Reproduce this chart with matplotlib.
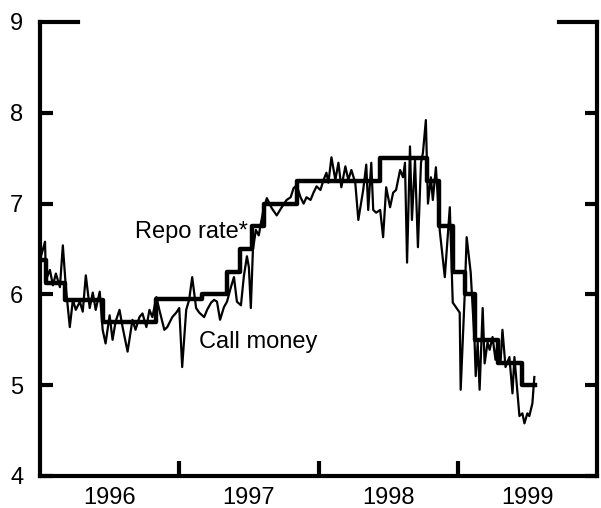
import matplotlib
matplotlib.use('Agg')
import matplotlib.pyplot as plt
from matplotlib.ticker import FixedLocator, NullFormatter, FixedFormatter

plt.rcParams['font.family'] = ['Liberation Sans', 'DejaVu Sans']

# repo rate: step start (decimal year) and level
repo_start = [1996.000, 1996.043, 1996.179, 1996.450, 1996.836, 1997.164, 1997.343,
              1997.436, 1997.521, 1997.607, 1997.843, 1998.443, 1998.779, 1998.864,
              1998.964, 1999.050, 1999.121, 1999.286, 1999.464, 1999.557]
repo_rate = [6.38, 6.13, 5.94, 5.70, 5.95, 6.00, 6.25,
             6.50, 6.75, 7.00, 7.25, 7.50, 7.25, 6.75,
             6.25, 6.00, 5.50, 5.25, 5.00, 5.00]

# call money rate (decimal year, %)
call_t = [1996.000, 1996.036, 1996.043, 1996.071, 1996.093, 1996.114, 1996.143, 1996.164,
          1996.186, 1996.214, 1996.236, 1996.257, 1996.286, 1996.307, 1996.329, 1996.357,
          1996.379, 1996.400, 1996.429, 1996.450, 1996.471, 1996.500, 1996.521, 1996.543,
          1996.571, 1996.593, 1996.629, 1996.664, 1996.686, 1996.714, 1996.736, 1996.764,
          1996.786, 1996.807, 1996.836, 1996.857, 1996.893, 1996.914, 1996.950, 1996.979,
          1997.000, 1997.021, 1997.050, 1997.071, 1997.093, 1997.121, 1997.143, 1997.179,
          1997.200, 1997.229, 1997.250, 1997.271, 1997.293, 1997.321, 1997.343, 1997.371,
          1997.393, 1997.414, 1997.443, 1997.464, 1997.486, 1997.500, 1997.514, 1997.529,
          1997.550, 1997.571, 1997.586, 1997.607, 1997.629, 1997.664, 1997.700, 1997.736,
          1997.771, 1997.800, 1997.821, 1997.843, 1997.871, 1997.893, 1997.914, 1997.943,
          1997.964, 1997.986, 1998.014, 1998.036, 1998.057, 1998.071, 1998.093, 1998.121,
          1998.143, 1998.164, 1998.193, 1998.214, 1998.236, 1998.264, 1998.286, 1998.321,
          1998.343, 1998.357, 1998.379, 1998.393, 1998.414, 1998.443, 1998.464, 1998.486,
          1998.514, 1998.536, 1998.557, 1998.586, 1998.607, 1998.621, 1998.636, 1998.657,
          1998.671, 1998.693, 1998.714, 1998.736, 1998.750, 1998.771, 1998.786, 1998.807,
          1998.821, 1998.843, 1998.857, 1998.871, 1998.907, 1998.943, 1998.964, 1999.014,
          1999.021, 1999.050, 1999.064, 1999.093, 1999.121, 1999.129, 1999.143, 1999.157,
          1999.179, 1999.193, 1999.214, 1999.229, 1999.250, 1999.271, 1999.286, 1999.307,
          1999.321, 1999.343, 1999.371, 1999.393, 1999.407, 1999.429, 1999.443, 1999.464,
          1999.479, 1999.500, 1999.514, 1999.536, 1999.550]
call_money = [6.38, 6.58, 6.16, 6.27, 6.10, 6.23, 6.08, 6.54,
              6.07, 5.64, 5.94, 5.83, 5.92, 5.81, 6.21, 5.85,
              6.02, 5.83, 6.03, 5.61, 5.46, 5.77, 5.50, 5.70,
              5.83, 5.64, 5.37, 5.72, 5.61, 5.75, 5.79, 5.64,
              5.83, 5.75, 5.97, 5.83, 5.61, 5.64, 5.75, 5.80,
              5.85, 5.20, 5.83, 5.94, 6.19, 5.85, 5.80, 5.75,
              5.83, 5.91, 5.94, 5.92, 5.72, 5.86, 5.92, 6.08,
              6.19, 5.92, 5.88, 6.20, 6.42, 6.30, 5.85, 6.49,
              6.71, 6.65, 6.78, 6.95, 7.06, 6.95, 6.87, 6.96,
              7.04, 7.07, 7.17, 7.20, 7.07, 7.00, 7.07, 7.04,
              7.12, 7.19, 7.15, 7.26, 7.34, 7.23, 7.51, 7.26,
              7.45, 7.18, 7.41, 7.26, 7.37, 7.23, 6.82, 7.15,
              7.43, 6.93, 7.45, 6.93, 6.90, 6.93, 6.63, 7.18,
              6.96, 7.12, 7.15, 7.37, 7.29, 7.45, 6.35, 7.63,
              6.82, 7.48, 6.52, 7.45, 7.56, 7.92, 7.00, 7.29,
              7.04, 7.40, 7.07, 6.70, 6.19, 6.96, 5.91, 5.80,
              4.95, 6.00, 6.63, 6.24, 5.47, 5.10, 5.47, 4.95,
              5.85, 5.24, 5.47, 5.39, 5.53, 5.28, 5.47, 5.24,
              5.61, 5.20, 5.31, 4.91, 5.31, 4.91, 4.66, 4.69,
              4.58, 4.69, 4.66, 4.80, 5.09]

years = ['1996', '1997', '1998', '1999']
year_mid = [1996.5, 1997.5, 1998.5, 1999.5]
year_edges = [1997, 1998, 1999]

fig = plt.figure(figsize=(6.01, 5.08), dpi=100)
ax = fig.add_axes([40 / 601, 1 - 476 / 508, 557 / 601, 454 / 508])

ax.plot(call_t, call_money, color='black', lw=1.6)
ax.step(repo_start, repo_rate, where='post', color='black', lw=3.2)

ax.set_xlim(1996, 2000)
ax.set_ylim(4, 9)

for s in ['left', 'right', 'bottom']:
    ax.spines[s].set_linewidth(3)
ax.spines['top'].set_visible(False)
ax.axhline(9, xmax=0.068, color='black', lw=3, clip_on=False)
ax.axhline(9, xmin=0.932, color='black', lw=3, clip_on=False)

ax.set_yticks([4, 5, 6, 7, 8])
ax.set_yticks([9], minor=True)
ax.yaxis.set_minor_formatter(FixedFormatter(['9']))
ax.tick_params(axis='y', which='major', direction='in', length=9, width=3,
               right=True, labelsize=17, pad=12)
ax.tick_params(axis='y', which='minor', direction='in', length=0, width=0,
               labelsize=17, pad=12)

ax.xaxis.set_major_locator(FixedLocator(year_edges))
ax.xaxis.set_major_formatter(NullFormatter())
ax.xaxis.set_minor_locator(FixedLocator(year_mid))
ax.xaxis.set_minor_formatter(FixedFormatter(years))
ax.tick_params(axis='x', which='major', direction='in', length=11, width=3)
ax.tick_params(axis='x', which='minor', length=0, labelsize=17, pad=8)

ax.text(1996.68, 6.69, 'Repo rate*', fontsize=17, va='center', ha='left')
ax.text(1997.14, 5.48, 'Call money', fontsize=17, va='center', ha='left')

fig.savefig('out.png', dpi=100)
